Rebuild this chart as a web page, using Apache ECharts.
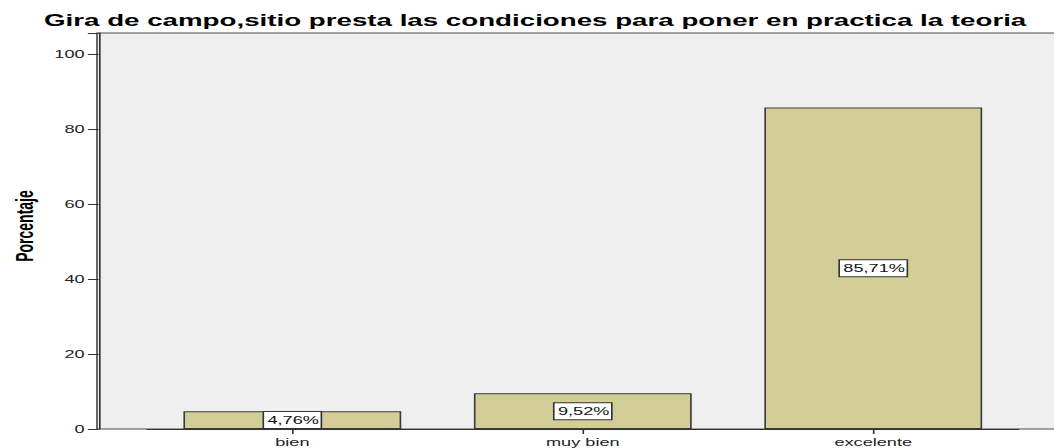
<!DOCTYPE html>
<html>
<head>
<meta charset="utf-8">
<script src="https://cdn.jsdelivr.net/npm/echarts@6/dist/echarts.min.js"></script>
<style>
  html, body { margin: 0; padding: 0; background: #fff; overflow: hidden; }
  /* the reference is a horizontally stretched SPSS export, so the chart is drawn narrow and stretched */
  #chart { width: 639px; height: 448px; transform: scaleX(1.65); transform-origin: 0 0; }
</style>
</head>
<body>
<div id="chart"></div>
<script>
const categories = ['bien', 'muy bien', 'excelente']
const percentages = [4.76, 9.52, 85.71]
const titleText = 'Gira de campo,sitio presta las condiciones para poner en practica la teoria'
const yName = 'Porcentaje'

const STRETCH = 1.65
const W = 1054 / STRETCH
const plotLeft = 97 / STRETCH          // where the frame / y axis sits
const catStep = 291 / STRETCH          // distance between category centres
const gridLeft = catStep / 2           // first category centre at one full step from x=0
const gridWidth = catStep * categories.length
const gridTop = 33
const gridBottom = 19

const chart = echarts.init(document.getElementById('chart'), null, { renderer: 'svg' })

const option = {
  animation: false,
  textStyle: { fontFamily: 'Liberation Sans, Arial, sans-serif' },
  title: {
    text: titleText,
    left: 44 / STRETCH,
    top: 12,
    padding: 0,
    textStyle: { fontSize: 16.8, fontWeight: 'bold', color: '#000' }
  },
  graphic: [{
    type: 'rect',
    z: -1,
    shape: { x: plotLeft, y: gridTop, width: W - plotLeft + 10, height: 448 - gridTop - gridBottom },
    style: { fill: '#efefef', stroke: '#4a4a4a', lineWidth: 1 }
  }],
  grid: { left: gridLeft, width: gridWidth, top: gridTop, bottom: gridBottom },
  xAxis: {
    type: 'category',
    data: categories,
    axisLine: { show: true, lineStyle: { color: '#333' } },
    axisTick: { show: true, alignWithLabel: true, length: 5, lineStyle: { color: '#333' } },
    axisLabel: { margin: 7, fontSize: 11, color: '#222' }
  },
  yAxis: {
    type: 'value',
    min: 0,
    max: 105.6,
    interval: 20,
    offset: gridLeft - plotLeft,
    name: yName,
    nameLocation: 'middle',
    nameGap: 37,
    nameRotate: 90,
    nameTextStyle: { fontSize: 14, fontWeight: 'bold', color: '#000', padding: [0, 0, 0, 10] },
    axisLine: { show: true, lineStyle: { color: '#333' } },
    axisTick: { show: true, length: 6.5, lineStyle: { color: '#333' } },
    axisLabel: {
      margin: 8.5,
      fontSize: 11,
      color: '#222',
      formatter: v => (v % 20 === 0 ? String(v) : '')
    },
    splitLine: { show: false }
  },
  series: [{
    type: 'bar',
    data: percentages,
    barWidth: '75%',
    itemStyle: { color: '#d3ce98', borderColor: '#3a3a3a', borderWidth: 1 },
    label: {
      show: true,
      position: 'inside',
      formatter: p => p.value.toFixed(2).replace('.', ',') + '%',
      fontSize: 11,
      color: '#111',
      backgroundColor: '#fff',
      borderColor: '#333',
      borderWidth: 1,
      padding: [3, 1, 2, 2]
    }
  }]
}

chart.setOption(option)
window.addEventListener('resize', () => chart.resize())
</script>
</body>
</html>
